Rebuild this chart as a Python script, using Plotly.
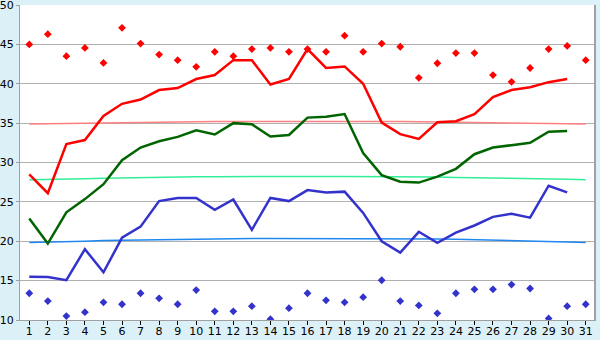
import plotly.graph_objects as go

days = list(range(1, 32))

record_max = [45.0, 46.3, 43.5, 44.55, 42.65, 47.1, 45.1, 43.7, 43.0, 42.15,
              44.05, 43.5, 44.4, 44.55, 44.05, 44.4, 44.05, 46.1, 44.05, 45.1,
              44.7, 40.75, 42.6, 43.9, 43.9, 41.1, 40.25, 42.0, 44.4, 44.8, 43.0]

mean_max = [28.5, 26.1, 32.35, 32.85, 35.9, 37.45, 38.0, 39.2, 39.45, 40.6,
            41.1, 43.0, 43.0, 39.9, 40.6, 44.4, 42.0, 42.2, 40.0, 35.06,
            33.6, 33.0, 35.1, 35.25, 36.15, 38.3, 39.2, 39.55, 40.2, 40.6]

mean_avg = [22.9, 19.7, 23.67, 25.35, 27.25, 30.3, 31.9, 32.7, 33.25, 34.1,
            33.55, 35.0, 34.85, 33.3, 33.5, 35.7, 35.8, 36.15, 31.2, 28.4,
            27.55, 27.45, 28.2, 29.2, 31.05, 31.9, 32.2, 32.5, 33.9, 34.0]

mean_min = [15.5, 15.46, 15.05, 19.0, 16.05, 20.45, 21.85, 25.1, 25.5, 25.5,
            24.0, 25.3, 21.45, 25.5, 25.1, 26.5, 26.2, 26.3, 23.6, 20.0,
            18.55, 21.2, 19.8, 21.1, 22.0, 23.1, 23.5, 23.0, 27.05, 26.2]

record_min = [13.4, 12.4, 10.5, 11.0, 12.25, 12.0, 13.4, 12.75, 12.0, 13.8,
              11.1, 11.1, 11.75, 10.1, 11.5, 13.4, 12.5, 12.25, 12.9, 15.05,
              12.4, 11.85, 10.85, 13.4, 13.9, 13.9, 14.5, 14.0, 10.2, 11.75, 12.0]

normal_max = [34.88, 34.95, 34.98, 35.0, 35.03, 35.07, 35.1, 35.13, 35.16, 35.2,
              35.2, 35.21, 35.22, 35.22, 35.22, 35.22, 35.22, 35.22, 35.21, 35.2,
              35.2, 35.18, 35.15, 35.1, 35.07, 35.03, 35.0, 34.98, 34.95, 34.92, 34.88]

normal_avg = [27.8, 27.88, 27.92, 27.95, 28.0, 28.05, 28.08, 28.12, 28.15, 28.18,
              28.2, 28.22, 28.23, 28.23, 28.23, 28.23, 28.23, 28.22, 28.22, 28.2,
              28.2, 28.18, 28.15, 28.1, 28.07, 28.05, 28.0, 27.95, 27.92, 27.88, 27.8]

normal_min = [19.85, 19.88, 19.92, 20.0, 20.08, 20.12, 20.18, 20.22, 20.26, 20.3,
              20.33, 20.35, 20.36, 20.36, 20.36, 20.36, 20.36, 20.35, 20.35, 20.34,
              20.33, 20.32, 20.3, 20.26, 20.2, 20.15, 20.1, 20.05, 20.0, 19.95, 19.85]

y_ticks = [10, 15, 20, 25, 30, 35, 40, 45, 50]

fig = go.Figure()

def line(y, color, width):
    fig.add_trace(go.Scatter(x=days[:len(y)], y=y, mode="lines",
                             line=dict(color=color, width=width),
                             hoverinfo="skip", showlegend=False))

line(normal_max, "#FF8080", 1.5)
line(normal_avg, "#33EE99", 1.5)
line(normal_min, "#1E88F0", 1.5)
line(mean_max, "#FF0000", 2.5)
line(mean_avg, "#006400", 2.5)
line(mean_min, "#3333CC", 2.5)

fig.add_trace(go.Scatter(x=days, y=record_max, mode="markers",
                         marker=dict(symbol="diamond", size=6, color="#FF0000"),
                         hoverinfo="skip", showlegend=False))
fig.add_trace(go.Scatter(x=days, y=record_min, mode="markers",
                         marker=dict(symbol="diamond", size=6, color="#3333CC"),
                         hoverinfo="skip", showlegend=False))

fig.update_layout(
    width=600, height=340,
    margin=dict(l=20, r=5, t=5, b=20),
    paper_bgcolor="#DBF0F7",
    plot_bgcolor="#FFFFFF",
    font=dict(family="DejaVu Sans", size=11, color="#000000"),
    showlegend=False,
)
fig.update_xaxes(range=[0.5, 31.5], tickvals=days, ticktext=[str(d) for d in days],
                 showgrid=False, zeroline=False,
                 showline=True, linecolor="#A0A0A0", linewidth=1, mirror=False,
                 ticks="outside", ticklen=4, tickcolor="#000000", tickwidth=1,
                 ticklabelstandoff=-3, ticklabeloverflow="allow",
                 automargin=False)
fig.update_yaxes(range=[10, 50], tickvals=y_ticks, ticktext=[str(v) for v in y_ticks],
                 showgrid=True, gridcolor="#B0B0B0", gridwidth=1, zeroline=False,
                 showline=True, linecolor="#A0A0A0", linewidth=1, mirror=True,
                 ticks="outside", ticklen=3, tickcolor="#A0A0A0",
                 ticklabeloverflow="allow",
                 automargin=False)
# right border
fig.add_shape(type="line", xref="paper", yref="paper", x0=1, x1=1, y0=0, y1=1,
              line=dict(color="#A0A0A0", width=2))

fig.write_html("out.html")
